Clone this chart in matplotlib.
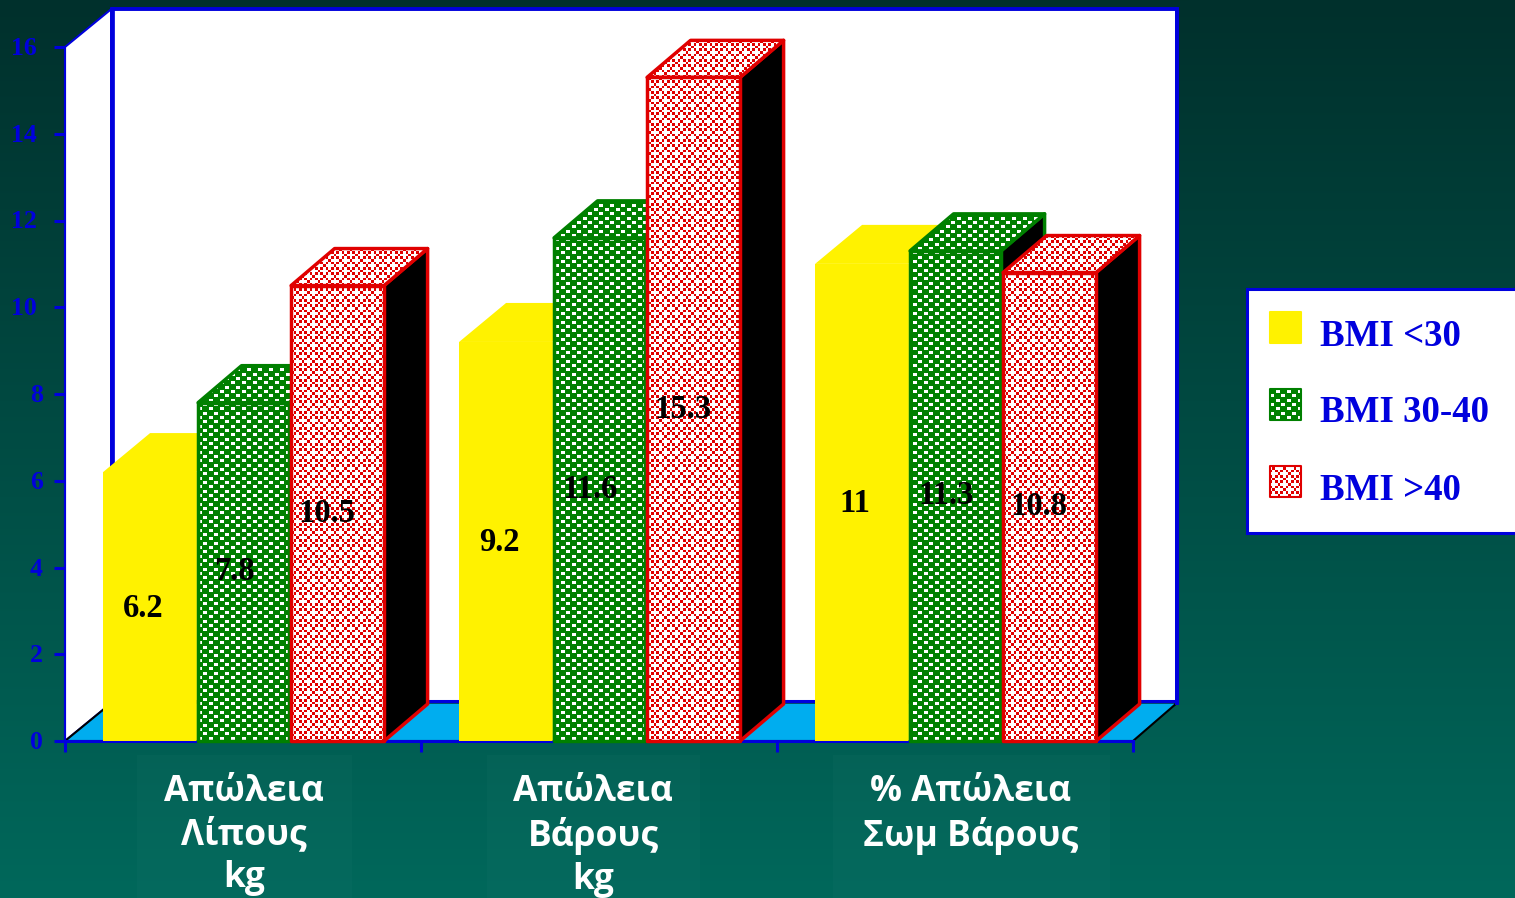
import numpy as np
import matplotlib
matplotlib.use('Agg')
import matplotlib.pyplot as plt
from matplotlib.patches import Polygon, Rectangle
from matplotlib.transforms import ScaledTranslation

categories = ['Απώλεια\nΛίπους\nkg', 'Απώλεια\nΒάρους\nkg', '% Απώλεια\nΣωμ Βάρους']
series_names = ['BMI <30', 'BMI 30-40', 'BMI >40']
bmi_low = [6.2, 9.2, 11]
bmi_mid = [7.8, 11.6, 11.3]
bmi_high = [10.5, 15.3, 10.8]
y_ticks = [0, 2, 4, 6, 8, 10, 12, 14, 16]

W, H = 1515, 898
BLUE = '#0000DD'
YELLOW = '#FFF200'
GREEN = '#008000'
RED = '#E00000'
CYAN = '#00ADEF'
serif = {'family': 'Liberation Serif', 'weight': 'bold'}

fig = plt.figure(figsize=(W / 100, H / 100), dpi=100)

# background gradient
bg = fig.add_axes([0, 0, 1, 1])
bg.axis('off')
top = np.array([0, 48, 44]) / 255
bot = np.array([0, 104, 91]) / 255
t = np.linspace(0, 1, 512)[:, None, None]
bg.imshow(top + (bot - top) * t, aspect='auto', extent=(0, 1, 0, 1))

# plot box is 0..3 / 0..16, at pixel x 65-1133, y 47-741
ax = fig.add_axes([65 / W, (H - 741) / H, 1068 / W, 694 / H])
ax.set_xlim(0, 3)
ax.set_ylim(0, 16)
ax.patch.set_visible(False)
sx = 1068 / 3
sy = 694 / 16

def px(x, y):
    return (x - 65) / sx, (741 - y) / sy

def make_pattern(color, kind):
    rgb = np.array(matplotlib.colors.to_rgb(color))
    ys, xs = np.mgrid[0:H, 0:W]
    if kind == 'green':
        tile = np.zeros((26, 11), bool)
        for i, row in enumerate([0, 4, 9, 13, 17, 22]):
            col = 0 if i % 2 == 0 else 5
            tile[row:row + 3, col:col + 4] = True
        white = tile[ys % 26, xs % 11]
    else:
        tile = np.array([[0, 1, 0, 1], [1, 1, 1, 0], [0, 1, 0, 1], [1, 0, 1, 1]], bool)
        white = tile[(ys * 3 // 8) % 4, (xs * 3 // 8) % 4]
    img = np.ones((H, W, 3))
    img[~white] = rgb
    return img

patterns = {GREEN: make_pattern(GREEN, 'green'), RED: make_pattern(RED, 'red')}
extent = (px(0, 0)[0], px(W, 0)[0], px(0, H)[1], px(0, 0)[1])

def face(pts, fill, edge, z, lw=2.5):
    # fill can be a plain colour or one of the dither patterns
    if fill in patterns:
        clip = Polygon(pts, closed=True, fc='none', ec='none', clip_on=False, zorder=z)
        ax.add_patch(clip)
        im = ax.imshow(patterns[fill], extent=extent, aspect='auto', interpolation='nearest', zorder=z)
        im.set_clip_box(fig.bbox)
        im.set_clip_path(clip)
        fill = 'none'
    ax.add_patch(Polygon(pts, closed=True, fc=fill, ec=edge, lw=lw, clip_on=False,
                         zorder=z, joinstyle='round'))

# walls and floor
wl, wr, wd = 47 / sx, 44.5 / sx, 38.5 / sy
face([(0, 0), (0, 16), (wl, 16 + wd), (wl, wd)], 'white', BLUE, 1, 1.5)
face([(wl, wd), (wl, 16 + wd), (3 + wr, 16 + wd), (3 + wr, wd)], 'white', BLUE, 1, 2.8)
face([(0, 0), (3, 0), (3 + wr, wd), (wl, wd)], CYAN, 'black', 1.5, 1.5)
ax.plot([wl, 3 + wr], [wd + 0.03, wd + 0.03], color=BLUE, lw=2.2, clip_on=False, zorder=1.6)
ax.plot([wl, wl], [wd, 16 + wd], color=BLUE, lw=3.4, clip_on=False, zorder=1.6)
ax.plot([3 + wr, 3 + wr], [wd, 16 + wd], color=BLUE, lw=2.8, clip_on=False, zorder=1.6)

# 3d bars
bar_w = 93 / sx
inset = 2 / sx  # outlined bars sit a little to the right
series = [(bmi_low, YELLOW, 'none'), (bmi_mid, GREEN, GREEN), (bmi_high, RED, RED)]
z = 3
for g in range(3):
    for s, (vals, fill, edge) in enumerate(series):
        v = vals[g]
        x0 = g + 0.107 + s * bar_w
        x1 = x0 + bar_w
        ddx, ddy = 47 / sx, 39 / sy
        lab_dx, lab_dy = 40 / sx, 1.5 / sy
        if s > 0:
            x0 += inset
            ddx, ddy = 43.5 / sx, 37 / sy
            lab_dx, lab_dy = 36 / sx, 0
        if s == 2:
            x1 += inset
        face([(x1, 0), (x1, v), (x1 + ddx, v + ddy), (x1 + ddx, ddy)], 'black' if fill != YELLOW else YELLOW, edge, z)
        face([(x0, v), (x1, v), (x1 + ddx, v + ddy), (x0 + ddx, v + ddy)], fill, edge, z + 0.1)
        face([(x0, 0), (x1, 0), (x1, v), (x0, v)], fill, edge, z + 0.2)
        ax.text(x0 + lab_dx, v / 2 - lab_dy, f'{v:g}', ha='center', va='center', color='black',
                fontsize=23.5, zorder=20, **serif)
        z += 1

# axes
for name in ['top', 'right']:
    ax.spines[name].set_visible(False)
ax.spines['left'].set_color(BLUE)
ax.spines['left'].set_linewidth(1.5)
ax.spines['bottom'].set_color(BLUE)
ax.spines['bottom'].set_linewidth(2.2)
ax.spines['bottom'].set_zorder(2)
ax.set_xticks([0, 1, 2, 3])
ax.set_xticklabels([])
ax.set_yticks(y_ticks)
ax.set_yticklabels([str(v) for v in y_ticks], color=BLUE, fontsize=18.5, **serif)
ax.tick_params(axis='both', color=BLUE, width=2.2, length=8)
up = ScaledTranslation(0, 1 / 100, fig.dpi_scale_trans)
for tick, v in zip(ax.yaxis.get_major_ticks(), y_ticks):
    tick.set_pad(12 if v >= 10 else 8)
    tick.label1.set_verticalalignment('center_baseline')
    tick.label1.set_transform(tick.label1.get_transform() + up)

# category labels with their faint boxes
for label, cx, bx0, bx1 in zip(categories, [244, 593, 971], [137, 487, 833], [352, 700, 1110]):
    x, y = px(bx0, 898)
    x2, y2 = px(bx1, 755)
    ax.add_patch(Rectangle((x, y), x2 - x, y2 - y, fc='white', alpha=0.02, ec='none', clip_on=False, zorder=0.5))
    tx, ty = px(cx, 774)
    ax.text(tx, ty, label, ha='center', va='top', color='white', fontsize=25.5, family='Open Sans',
            weight='bold', linespacing=1.25, zorder=5, clip_on=False)

# legend
x, y = px(1247, 533)
x2, y2 = px(1530, 289)
ax.add_patch(Rectangle((x, y), x2 - x, y2 - y, fc='white', ec=BLUE, lw=2.2, clip_on=False, zorder=30))
for name, fill, sy0 in zip(series_names, [YELLOW, GREEN, RED], [311, 388, 465]):
    x, y = px(1270, sy0 + 32)
    x2, y2 = px(1301, sy0 + 1)
    face([(x, y), (x2, y), (x2, y2), (x, y2)], fill, fill, 31, 1.5)
    tx, ty = px(1320, sy0 + 25)
    ax.text(tx, ty, name, ha='left', va='center', color=BLUE, fontsize=26.6, zorder=32, clip_on=False, **serif)

ax.set_xlim(0, 3)
ax.set_ylim(0, 16)
fig.savefig('out.png', dpi=100, facecolor=fig.get_facecolor())
